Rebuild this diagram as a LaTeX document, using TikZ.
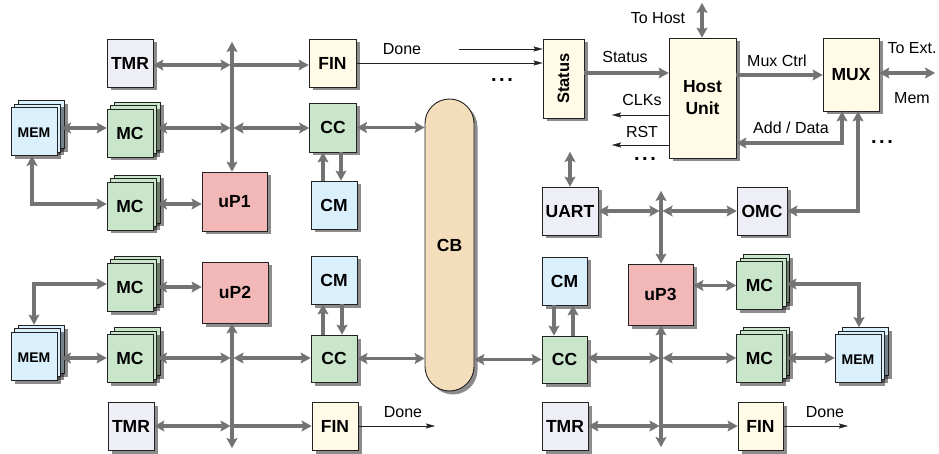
\documentclass[tikz,border=0pt]{standalone}
\usepackage{fontspec}
\setmainfont{Liberation Sans}
\usetikzlibrary{arrows.meta,shadows}
\definecolor{cTMR}{HTML}{EEEEF6}
\definecolor{cFIN}{HTML}{FFFBE6}
\definecolor{cMC}{HTML}{C9E5CA}
\definecolor{cCM}{HTML}{DAF0FC}
\definecolor{cUP}{HTML}{F2B7B7}
\definecolor{cCB}{HTML}{F3DDBA}
\definecolor{cG}{HTML}{737373}
\definecolor{cK}{HTML}{222222}
\tikzset{
  shd/.style={drop shadow={shadow xshift=3.5pt,shadow yshift=-3.5pt,fill=black,opacity=0.45}},
  base/.style={draw=cK, line width=0.9pt, inner sep=0pt, align=center},
  bxbase/.style={base, minimum width=46pt, minimum height=48pt,
    font=\bfseries\fontsize{17.5}{22}\selectfont, shd},
  bx/.style={bxbase, text height=12.6pt, text depth=0pt},
  lay/.style={base, minimum width=46pt, minimum height=48pt,
    font=\bfseries\fontsize{17.5}{22}\selectfont, text height=12.6pt, text depth=0pt},
  g/.style={draw=cG, line width=3.2pt,
    >={Stealth[length=10pt,width=11pt,inset=2pt,line width=0.3pt]}},
  th/.style={draw=cK, line width=0.9pt,
    -{Stealth[length=9pt,width=5pt,inset=1.5pt,line width=0.3pt]}},
  lbl/.style={font=\fontsize{16}{16}\selectfont, inner sep=0pt, text height=11.5pt, text depth=0pt},
  dts/.style={font=\bfseries\fontsize{20}{20}\selectfont, inner sep=0pt},
}
\newcommand\mystack[5]{%
  \node[lay,fill=#5,shd,xshift=7pt,yshift=7pt] (#1-b) at (#2,#3) {};
  \node[lay,draw=none,fill=black,opacity=0.45,xshift=7pt] (#1-ms) at (#2,#3) {};
  \node[lay,draw=none,fill=black,opacity=0.45,xshift=3.5pt,yshift=-3.5pt] (#1-fs) at (#2,#3) {};
  \node[lay,fill=#5,xshift=3.5pt,yshift=3.5pt] (#1-m) at (#2,#3) {};
  \node[lay,fill=#5] (#1) at (#2,#3) {#4};
}
\newcommand\memlbl{\fontsize{14}{14}\selectfont MEM}
\newcommand\mydots{.\hspace{2.5pt}.\hspace{2.5pt}.}
\begin{document}
\begin{tikzpicture}[x=1pt,y=-1pt]
\useasboundingbox (0,0) rectangle (939,454);

% ---------- boxes ----------
\node[bx,fill=cTMR] (TMR1) at (130,63) {TMR};
\node[bx,fill=cFIN,minimum width=47pt] (FIN1) at (332.5,63) {FIN};
\mystack{MEM1}{34}{131.5}{\memlbl}{cCM}
\mystack{MC1}{130}{133}{MC}{cMC}
\node[bx,fill=cMC,minimum width=47pt,minimum height=49pt] (CC1) at (333,127.5) {CC};
\mystack{MC2}{130}{206}{MC}{cMC}
\node[bx,fill=cUP,minimum width=65pt,minimum height=59pt] (uP1) at (234.5,201.5) {uP1};
\node[bx,fill=cCM] (CM1) at (334,205) {CM};

\mystack{MC3}{130}{287}{MC}{cMC}
\node[bx,fill=cUP,minimum width=66pt,minimum height=61pt] (uP2) at (235,292.5) {uP2};
\mystack{MEM2}{34}{356}{\memlbl}{cCM}
\mystack{MC4}{130}{358.5}{MC}{cMC}
\node[bx,fill=cTMR] (TMR2) at (131,426) {TMR};
\node[bx,fill=cCM] (CM2) at (334,280) {CM};
\node[bx,fill=cMC,minimum height=47pt] (CC2) at (334,358.5) {CC};
\node[bx,fill=cFIN] (FIN2) at (335,426) {FIN};

\node[bx,fill=cCB,minimum width=49pt,minimum height=292pt,rounded corners=24.5pt] (CB) at (449.5,245) {CB};

\node[bxbase,fill=cFIN,minimum width=41pt,minimum height=79pt,font=\bfseries\fontsize{16.5}{16.5}\selectfont] (Status) at (563.5,78.5) {\rotatebox{90}{Status}};
\node[bxbase,fill=cFIN,minimum width=67pt,minimum height=120pt] (Host) at (702.5,98) {Host\\Unit};
\node[bx,fill=cFIN,minimum width=56pt,minimum height=73pt] (MUX) at (851,74.5) {MUX};
\node[bx,fill=cTMR,minimum width=56pt] (UART) at (570,211) {UART};
\node[bx,fill=cTMR,minimum width=50pt] (OMC) at (762,211) {OMC};
\node[bx,fill=cCM,minimum width=45pt] (CM3) at (564.5,281) {CM};
\node[bx,fill=cMC,minimum width=45pt,minimum height=47pt] (CC3) at (564.5,359.5) {CC};
\node[bx,fill=cUP,minimum width=65pt,minimum height=61pt] (uP3) at (660.5,294.5) {uP3};
\mystack{MC5}{759.5}{285.5}{MC}{cMC}
\mystack{MC6}{759.5}{358}{MC}{cMC}
\mystack{MEM3}{858}{358.5}{\memlbl}{cCM}
\node[bx,fill=cTMR] (TMR3) at (565,426) {TMR};
\node[bx,fill=cFIN,minimum width=45pt] (FIN3) at (760.5,426) {FIN};

% ---------- top-left connectors ----------
\coordinate (b1t) at (232,42);
\coordinate (b1a) at (232,65);
\coordinate (b1b) at (232,128);
\coordinate (m1r) at (32,204);
\draw[g,<->] (b1t) -- (b1t |- uP1.north);
\draw[g,<->,shorten >=1.6pt] (TMR1.east |- b1a) -- (b1a);
\draw[g,->] (b1a) -- (FIN1.west |- b1a);
\draw[g,<->,shorten >=1.6pt] (MC1-m.east |- b1b) -- (b1b);
\draw[g,<->,shorten <=1.6pt] (b1b) -- (CC1.west |- b1b);
\draw[g,<->] (MEM1-m.east |- b1b) -- (MC1.west |- b1b);
\draw[g,<->] (m1r |- MEM1.south) -- (m1r) -- (MC2.west |- m1r);
\draw[g,<->] (MC2-m.east |- m1r) -- (uP1.west |- m1r);
\draw[g,<->] (CC1.east) -- (CB.west |- CC1.east);
\draw[g,->] ([xshift=-11pt]CM1.north) -- ([xshift=-11pt]CM1.north |- CC1.south);
\draw[g,->] ([xshift=8pt]CC1.south) -- ([xshift=8pt]CC1.south |- CM1.north);

% ---------- top-right connectors ----------
\coordinate (dn1) at (459,49);
\draw[th] (FIN1.east) -- (Status.west |- FIN1.east);
\draw[th] (dn1) -- (Status.west |- dn1);
\coordinate (sr) at (600,73);
\draw[g,->] (Status.east |- sr) -- (Host.west |- sr);
\coordinate (clk) at (612,115);
\draw[th] (Host.west |- clk) -- (clk);
\coordinate (rst) at (612,145);
\draw[th] (Host.west |- rst) -- (rst);
\coordinate (toh) at (702,3);
\draw[g,<->] (toh) -- (toh |- Host.north);
\coordinate (mx) at (780,75);
\draw[g,->] (Host.east |- mx) -- (MUX.west |- mx);
\coordinate (te) at (935,73);
\draw[g,<->] (MUX.east |- te) -- (te);
\coordinate (ad) at (842,143);
\draw[g,<->] (Host.east |- ad) -- (ad) -- (ad |- MUX.south);
\coordinate (om) at (858,211);
\draw[g,<->] (om |- MUX.south) -- (om) -- (OMC.east |- om);
\coordinate (ut) at (570,152);
\draw[g,<->] (ut) -- (ut |- UART.north);
\coordinate (b3t) at (661,191);
\coordinate (b3a) at (661,211);
\draw[g,<->] (b3t) -- (b3t |- uP3.north);
\draw[g,<->,shorten >=1.6pt] (UART.east |- b3a) -- (b3a);
\draw[g,<->,shorten <=1.6pt] (b3a) -- (OMC.west |- b3a);

% ---------- bottom-left connectors ----------
\coordinate (b2a) at (232,358);
\coordinate (b2b) at (232,426);
\coordinate (b2e) at (232,448);
\coordinate (m2r) at (34,284);
\draw[g,<->] (b2e |- uP2.south) -- (b2e);
\draw[g,<->] (MC3-m.east |- MC3.east) -- (uP2.west |- MC3.east);
\draw[g,<->] (MC3.west |- m2r) -- (m2r) -- (m2r |- MEM2-b.north);
\draw[g,<->] (MEM2-m.east |- b2a) -- (MC4.west |- b2a);
\draw[g,<->,shorten >=1.6pt] (MC4-m.east |- b2a) -- (b2a);
\draw[g,<->,shorten <=1.6pt] (b2a) -- (CC2.west |- b2a);
\draw[g,<->,shorten >=1.6pt] (TMR2.east |- b2b) -- (b2b);
\draw[g,->] (b2b) -- (FIN2.west |- b2b);
\draw[g,<->] (CC2.east) -- (CB.west |- CC2.east);
\draw[g,->] ([xshift=-11pt]CC2.north) -- ([xshift=-11pt]CC2.north |- CM2.south);
\draw[g,->] ([xshift=8pt]CM2.south) -- ([xshift=8pt]CM2.south |- CC2.north);
\coordinate (d2) at (435,426);
\draw[th] (FIN2.east |- d2) -- (d2);

% ---------- bottom-right connectors ----------
\coordinate (b4a) at (661,358);
\coordinate (b4b) at (661,426);
\coordinate (b4e) at (661,447);
\draw[g,<->] (b4e |- uP3.south) -- (b4e);
\draw[g,<->] (CB.east |- CC3.west) -- (CC3.west);
\draw[g,<->,shorten >=1.6pt] (CC3.east |- b4a) -- (b4a);
\draw[g,<->,shorten <=1.6pt] (b4a) -- (MC6.west |- b4a);
\draw[g,<->,shorten >=1.6pt] (TMR3.east |- b4b) -- (b4b);
\draw[g,->] (b4b) -- (FIN3.west |- b4b);
\draw[g,<->] (uP3.east |- MC5.west) -- (MC5.west);
\coordinate (m3r) at (859,284);
\draw[g,<->] (MC5-m.east |- m3r) -- (m3r) -- (m3r |- MEM3-b.north);
\draw[g,<->] (MC6-m.east |- MC6.east) -- (MEM3.west |- MC6.east);
\draw[g,->] ([xshift=-10.5pt]CM3.south) -- ([xshift=-10.5pt]CM3.south |- CC3.north);
\draw[g,->] ([xshift=8.5pt]CC3.north) -- ([xshift=8.5pt]CC3.north |- CM3.south);
\coordinate (d3) at (848,426);
\draw[th] (FIN3.east |- d3) -- (d3);

% ---------- labels ----------
\node[lbl] (lDone1) at (402,49) {Done};
\node[dts] (dots1) at (502,80) {\mydots};
\node[lbl] (lStatus) at (625,57) {Status};
\node[lbl] (lCLK) at (642,100) {CLKs};
\node[lbl] (lRST) at (642,132) {RST};
\node[dts] (dots2) at (645,159) {\mydots};
\node[lbl] (lToHost) at (658,18) {To Host};
\node[lbl] (lMux) at (777,61) {Mux Ctrl};
\node[lbl] (lToExt) at (912,48) {To Ext.};
\node[lbl] (lMem) at (912,98) {Mem};
\node[lbl] (lAdd) at (791,128) {Add / Data};
\node[dts] (dots3) at (882,142) {\mydots};
\node[lbl] (lDone2) at (403,412) {Done};
\node[lbl] (lDone3) at (825,412) {Done};
\end{tikzpicture}
\end{document}
